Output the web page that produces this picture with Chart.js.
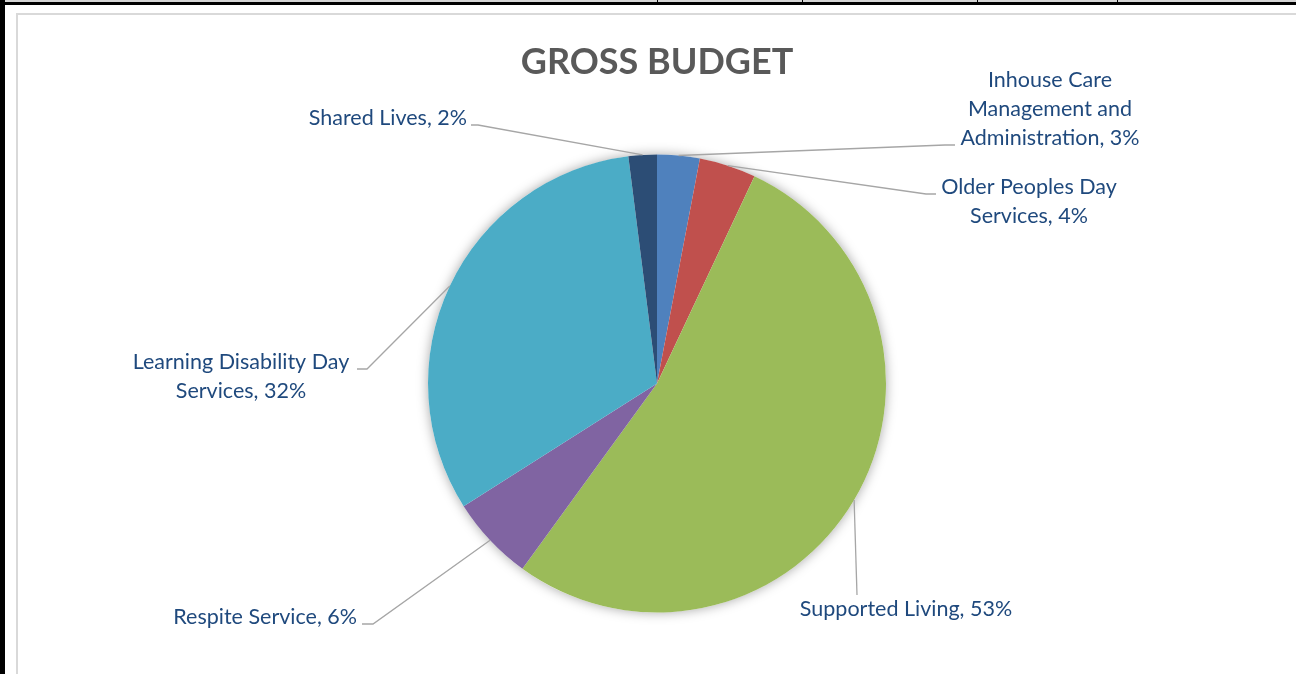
<!DOCTYPE html>
<html>
<head>
<meta charset="utf-8">
<title>Gross Budget</title>
<script src="https://cdn.jsdelivr.net/npm/chart.js@4/dist/chart.umd.min.js"></script>
<style>
    body { margin: 0; background: #fff; }
    #page { position: relative; width: 1296px; height: 674px; overflow: hidden; background: #fff; }
    .rule { position: absolute; background: #000; }
    #topband { position: absolute; left: 0; top: 0; width: 1296px; height: 2px; background: #d4d4d4; }
    #frame { position: absolute; left: 16px; top: 13px; width: 1320px; height: 700px; border: 2px solid #d9d9d9; box-sizing: border-box; }
    #grap { position: absolute; left: 0; top: 0; }
</style>
</head>
<body>
<div id="page">
    <div id="topband"></div>
    <div class="rule" style="left:0;top:2px;width:1296px;height:3px"></div>
    <div class="rule" style="left:0;top:0;width:5px;height:674px"></div>
    <div class="rule" style="left:657px;top:0;width:1px;height:3px"></div>
    <div class="rule" style="left:802px;top:0;width:1px;height:3px"></div>
    <div class="rule" style="left:977px;top:0;width:1px;height:3px"></div>
    <div class="rule" style="left:1117px;top:0;width:1px;height:3px"></div>
    <div id="frame"></div>
    <canvas id="grap" width="1296" height="674"></canvas>
</div>
<script>
const categories = [
    'Inhouse Care Management and Administration',
    'Older Peoples Day Services',
    'Supported Living',
    'Respite Service',
    'Learning Disability Day Services',
    'Shared Lives'
]
const shares = [3, 4, 53, 6, 32, 2]
const sliceColors = ['#4F81BD', '#C0504D', '#9BBB59', '#8064A2', '#4BACC6', '#2C4D75']

// where each data label sits and how its leader line bends
const labelLayout = [
    { x: 1050, y: 80, align: 'center', wrap: 200, path: [[945, 145], [955, 145]] },
    { x: 1029, y: 187, align: 'center', wrap: 200, path: [[926, 194], [936, 194]] },
    { x: 906, y: 609, align: 'center', wrap: 400, path: [[857, 595]] },
    { x: 357, y: 617, align: 'right', wrap: 400, path: [[373, 624], [362, 624]] },
    { x: 241, y: 362, align: 'center', wrap: 240, path: [[367, 369], [357, 369]] },
    { x: 467, y: 118, align: 'right', wrap: 400, path: [[478, 125], [471, 125]] }
]

const labelFont = '21.5px Lato'
const labelColor = '#1F497D'
const lineGap = 29

function quebrar(ctx, texto, largura) {
    const palavras = texto.split(' ')
    const linhas = []
    let atual = ''
    palavras.forEach(p => {
        const teste = atual ? atual + ' ' + p : p
        if (atual && ctx.measureText(teste).width > largura) {
            linhas.push(atual)
            atual = p
        } else {
            atual = teste
        }
    })
    linhas.push(atual)
    return linhas
}

// soft shadow under the whole pie
const sombra = {
    id: 'sombra',
    beforeDatasetsDraw(chart) {
        const arc = chart.getDatasetMeta(0).data[0]
        if (!arc) return
        const ctx = chart.ctx
        ctx.save()
        ctx.shadowColor = 'rgba(0,0,0,0.35)'
        ctx.shadowBlur = 12
        ctx.fillStyle = '#ffffff'
        ctx.beginPath()
        ctx.arc(arc.x, arc.y, arc.outerRadius, 0, Math.PI * 2)
        ctx.fill()
        ctx.restore()
    }
}

// category + percent labels with leader lines
const rotulos = {
    id: 'rotulos',
    afterDatasetsDraw(chart) {
        const ctx = chart.ctx
        const meta = chart.getDatasetMeta(0)
        const dados = chart.data.datasets[0].data
        const total = dados.reduce((a, b) => a + b, 0)

        meta.data.forEach((arc, i) => {
            const lay = labelLayout[i]
            const meio = (arc.startAngle + arc.endAngle) / 2
            const px = arc.x + Math.cos(meio) * arc.outerRadius
            const py = arc.y + Math.sin(meio) * arc.outerRadius

            ctx.save()
            ctx.strokeStyle = '#A6A6A6'
            ctx.lineWidth = 1.3
            ctx.beginPath()
            ctx.moveTo(px, py)
            lay.path.forEach(pt => ctx.lineTo(pt[0], pt[1]))
            ctx.stroke()

            ctx.font = labelFont
            ctx.fillStyle = labelColor
            ctx.textAlign = lay.align
            ctx.textBaseline = 'middle'
            const pct = Math.round(dados[i] / total * 100)
            const texto = chart.data.labels[i] + ', ' + pct + '%'
            quebrar(ctx, texto, lay.wrap).forEach((linha, k) => {
                ctx.fillText(linha, lay.x, lay.y + k * lineGap)
            })
            ctx.restore()
        })
    }
}

function criarGraf() {
    const ctx = document.getElementById('grap').getContext('2d')

    new Chart(ctx, {
        type: 'pie',
        data: {
            labels: categories,
            datasets: [{
                data: shares,
                backgroundColor: sliceColors,
                borderWidth: 0,
                hoverOffset: 0
            }]
        },
        options: {
            responsive: false,
            animation: false,
            radius: 229,
            layout: {
                padding: { left: 18, right: 0, top: 0, bottom: 47 }
            },
            plugins: {
                legend: { display: false },
                tooltip: { enabled: false },
                title: {
                    display: true,
                    text: 'GROSS BUDGET',
                    color: '#595959',
                    font: { family: 'Lato', size: 36, weight: 'bold', lineHeight: 1.2 },
                    padding: { top: 40.4, bottom: 56.4 }
                }
            }
        },
        plugins: [sombra, rotulos]
    })
}

criarGraf()
</script>
</body>
</html>
